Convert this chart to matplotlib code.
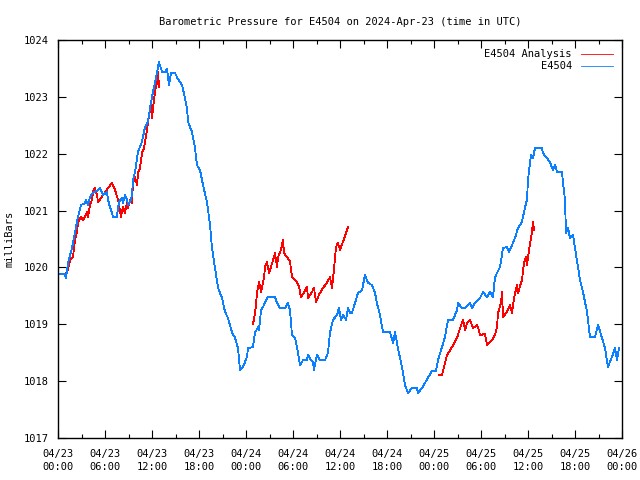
import numpy as np
import matplotlib
matplotlib.use("Agg")
import matplotlib.pyplot as plt
from matplotlib.ticker import MultipleLocator

# Hours since 2024-04-23 00:00 UTC
obs_hours = [0.26, 0.89, 1.02, 1.28, 1.79, 2.17, 2.55, 2.94, 3.45, 3.57, 3.83, 4.09, 4.47, 5.11, 5.36, 5.74,
             6.26, 6.38, 6.64, 6.89, 7.02, 7.53, 7.66, 7.91, 8.17, 8.30, 8.55, 8.81, 8.94, 9.19, 9.45, 9.57,
             9.83, 10.21, 10.72, 11.11, 11.49, 11.74, 12.13, 12.51, 12.77, 12.89, 13.28, 13.66, 13.91, 14.17,
             14.43, 14.94, 15.32, 15.83, 16.21, 16.47, 16.60, 17.11, 17.49, 17.74, 18.13, 18.51, 19.02, 19.40,
             19.66, 20.04, 20.43, 20.94, 21.32, 21.70, 22.21, 22.60, 22.98, 23.23, 23.62, 24.13, 24.26, 24.89,
             25.15, 25.53, 25.66, 25.92, 26.17, 26.68, 26.81, 27.70, 27.96, 28.34, 28.98, 29.36, 29.62, 29.87,
             30.26, 30.64, 30.89, 31.28, 31.79, 31.91, 32.30, 32.55, 32.68, 33.06, 33.45, 34.09, 34.47, 34.72,
             35.11, 35.62, 35.87, 36.13, 36.38, 36.77, 37.02, 37.28, 37.53, 37.91, 38.30, 38.81, 39.19, 39.57,
             40.09, 40.47, 40.72, 41.11, 41.49, 42.38, 42.77, 43.02, 43.40, 43.91, 44.30, 44.68, 45.19, 45.83,
             45.96, 46.47, 46.85, 47.23, 47.74, 48.26, 48.51, 49.02, 49.40, 49.79, 50.43, 50.94, 51.06, 51.57,
             51.96, 52.60, 52.85, 53.23, 53.87, 54.26, 54.77, 55.15, 55.53, 55.79, 56.43, 56.81, 57.32, 57.57,
             57.96, 58.34, 58.72, 59.23, 59.62, 59.87, 60.00, 60.38, 60.64, 60.89, 61.79, 61.91, 62.43, 62.81,
             63.19, 63.45, 63.70, 64.34, 64.47, 64.72, 64.85, 65.11, 65.36, 65.74, 66.00, 66.26, 66.64, 67.02,
             67.53, 67.91, 68.55, 68.94, 69.45, 69.83, 70.21, 70.72, 71.11, 71.36, 71.62]
obs_mb = [1019.88, 1019.88, 1019.81, 1020.08, 1020.34, 1020.61, 1020.89, 1021.10, 1021.13, 1021.19, 1021.10,
          1021.24, 1021.31, 1021.36, 1021.40, 1021.27, 1021.33, 1021.19, 1021.06, 1020.96, 1020.89, 1020.89,
          1021.06, 1021.19, 1021.22, 1021.13, 1021.27, 1021.19, 1021.10, 1021.15, 1021.27, 1021.54, 1021.68,
          1022.03, 1022.21, 1022.47, 1022.56, 1022.80, 1023.09, 1023.33, 1023.53, 1023.61, 1023.44, 1023.44,
          1023.49, 1023.21, 1023.42, 1023.42, 1023.31, 1023.21, 1022.98, 1022.80, 1022.56, 1022.38, 1022.10,
          1021.80, 1021.71, 1021.45, 1021.15, 1020.75, 1020.34, 1019.99, 1019.64, 1019.46, 1019.22, 1019.11,
          1018.86, 1018.76, 1018.58, 1018.20, 1018.25, 1018.43, 1018.58, 1018.60, 1018.85, 1018.95, 1018.90,
          1019.25, 1019.30, 1019.46, 1019.48, 1019.48, 1019.37, 1019.29, 1019.29, 1019.37, 1019.25, 1018.81,
          1018.76, 1018.50, 1018.28, 1018.37, 1018.37, 1018.46, 1018.37, 1018.34, 1018.20, 1018.46, 1018.37,
          1018.37, 1018.50, 1018.85, 1019.08, 1019.16, 1019.29, 1019.08, 1019.16, 1019.08, 1019.29, 1019.20,
          1019.20, 1019.37, 1019.55, 1019.60, 1019.87, 1019.73, 1019.69, 1019.55, 1019.37, 1019.16, 1018.86,
          1018.86, 1018.67, 1018.86, 1018.58, 1018.25, 1017.93, 1017.79, 1017.88, 1017.88, 1017.79, 1017.88,
          1017.97, 1018.06, 1018.18, 1018.18, 1018.37, 1018.60, 1018.78, 1019.08, 1019.08, 1019.25, 1019.37,
          1019.29, 1019.29, 1019.37, 1019.29, 1019.37, 1019.46, 1019.57, 1019.48, 1019.57, 1019.48, 1019.83,
          1020.01, 1020.34, 1020.36, 1020.27, 1020.39, 1020.52, 1020.69, 1020.80, 1021.06, 1021.19, 1021.54,
          1021.98, 1021.92, 1022.10, 1022.10, 1022.01, 1021.92, 1021.85, 1021.71, 1021.80, 1021.68, 1021.68,
          1021.49, 1021.19, 1020.61, 1020.69, 1020.52, 1020.57, 1020.34, 1020.10, 1019.78, 1019.57, 1019.22,
          1018.78, 1018.78, 1018.99, 1018.76, 1018.58, 1018.25, 1018.43, 1018.58, 1018.37, 1018.58]

ana1_hours = [0.89, 1.28, 1.53, 1.91, 2.17, 2.43, 2.55, 2.94, 3.19, 3.70, 3.83, 4.09, 4.34, 4.47, 4.72, 4.98,
              5.11, 6.89, 7.28, 7.66, 7.91, 8.04, 8.30, 8.55, 8.81, 8.94, 9.19, 9.45, 9.57, 9.83, 10.09,
              10.21, 10.47, 10.72, 10.98, 11.36, 11.62, 11.87, 12.00, 12.13, 12.38, 12.64, 12.77, 12.89]
ana1_mb = [1019.87, 1019.96, 1020.13, 1020.18, 1020.48, 1020.62, 1020.80, 1020.89, 1020.83, 1020.97, 1020.89,
           1021.10, 1021.19, 1021.33, 1021.40, 1021.27, 1021.15, 1021.49, 1021.36, 1021.19, 1021.01, 1020.89,
           1021.06, 1020.96, 1021.13, 1021.05, 1021.19, 1021.13, 1021.49, 1021.59, 1021.45, 1021.66, 1021.75,
           1022.01, 1022.10, 1022.42, 1022.68, 1022.86, 1022.63, 1022.80, 1023.09, 1023.26, 1023.44, 1023.17]

ana2_hours = [24.89, 25.02, 25.28, 25.40, 25.66, 25.92, 26.17, 26.30, 26.43, 26.68, 26.94, 27.19, 27.45, 27.70,
              27.96, 28.09, 28.47, 28.72, 28.85, 29.23, 29.62, 29.87, 30.51, 30.77, 31.02, 31.40, 31.79, 31.91,
              32.43, 32.68, 32.94, 33.32, 33.83, 34.34, 34.72, 34.98, 35.23, 35.49, 35.74, 36.00, 36.38, 36.89,
              37.02]
ana2_mb = [1019.01, 1019.08, 1019.34, 1019.55, 1019.74, 1019.57, 1019.74, 1019.83, 1020.01, 1020.10, 1019.90,
           1020.01, 1020.13, 1020.25, 1020.01, 1020.18, 1020.31, 1020.48, 1020.25, 1020.18, 1020.10, 1019.83,
           1019.74, 1019.66, 1019.48, 1019.55, 1019.66, 1019.46, 1019.57, 1019.64, 1019.39, 1019.52, 1019.64,
           1019.73, 1019.83, 1019.64, 1019.96, 1020.36, 1020.43, 1020.31, 1020.45, 1020.66, 1020.71]

ana3_hours = [48.64, 49.02, 49.40, 49.66, 50.30, 50.94, 51.32, 51.70, 51.96, 52.21, 52.60, 52.98, 53.49, 53.62,
              53.87, 54.51, 54.77, 55.40, 55.79, 56.04, 56.17, 56.55, 56.68, 56.81, 57.32, 57.70, 57.96, 58.21,
              58.60, 58.72, 59.23, 59.49, 59.74, 59.87, 60.13, 60.51, 60.64, 60.77]
ana3_mb = [1018.11, 1018.11, 1018.32, 1018.46, 1018.60, 1018.76, 1018.93, 1019.08, 1018.90, 1019.02, 1019.08,
           1018.93, 1018.99, 1018.95, 1018.81, 1018.83, 1018.64, 1018.72, 1018.81, 1018.95, 1019.20, 1019.37,
           1019.57, 1019.13, 1019.22, 1019.34, 1019.20, 1019.46, 1019.69, 1019.55, 1019.78, 1020.08, 1020.18,
           1020.04, 1020.31, 1020.62, 1020.80, 1020.66]

tick_hours = [0, 6, 12, 18, 24, 30, 36, 42, 48, 54, 60, 66, 72]
tick_labels = ["04/23\n00:00", "04/23\n06:00", "04/23\n12:00", "04/23\n18:00",
               "04/24\n00:00", "04/24\n06:00", "04/24\n12:00", "04/24\n18:00",
               "04/25\n00:00", "04/25\n06:00", "04/25\n12:00", "04/25\n18:00",
               "04/26\n00:00"]

plt.rcParams['font.family'] = ['DejaVu Sans Mono']
fs = 7.5

fig = plt.figure(figsize=(6.4, 4.8), dpi=100)
ax = fig.add_axes([58/640, 42/480, 564/640, 398/480])

red = '#ff0000'
blue = '#0a80ff'
lw = 0.6

a_h = ana1_hours + [np.nan] + ana2_hours + [np.nan] + ana3_hours
a_v = ana1_mb + [np.nan] + ana2_mb + [np.nan] + ana3_mb
ax.plot(a_h, a_v, color=red, lw=lw, label='E4504 Analysis', antialiased=False)
ax.plot(obs_hours, obs_mb, color=blue, lw=lw, label='E4504', antialiased=False)

ax.set_xlim(0, 72)
ax.set_ylim(1017, 1024)
ax.set_xticks(tick_hours)
ax.set_xticklabels(tick_labels, fontsize=fs, linespacing=1.4)
ax.xaxis.set_minor_locator(MultipleLocator(3))
ax.yaxis.set_major_locator(MultipleLocator(1))
ax.tick_params(axis='both', which='both', direction='in', top=True, right=True, labelsize=fs, width=0.8)
ax.tick_params(axis='both', which='major', length=6)
ax.tick_params(axis='x', which='minor', length=3)
ax.tick_params(axis='y', which='major', pad=7)
ax.tick_params(axis='x', which='major', pad=8)
for s in ax.spines.values():
    s.set_linewidth(1.0)

ax.set_ylabel('milliBars', fontsize=fs, labelpad=6)
ax.set_title('Barometric Pressure for E4504 on 2024-Apr-23 (time in UTC)', fontsize=fs, pad=11)

leg = ax.legend(loc='upper right', frameon=False, fontsize=fs, markerfirst=False,
                handlelength=3.0, handletextpad=0.9, borderaxespad=0.5, labelspacing=0.2)

fig.savefig('out.png', dpi=100)
